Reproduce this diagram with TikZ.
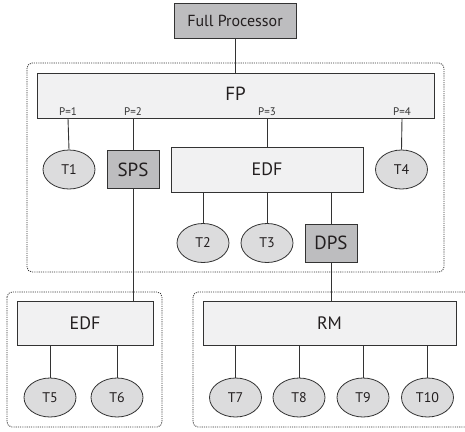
\documentclass[tikz,border=0pt]{standalone}
\usepackage{fontspec}
\setmainfont{PT Sans}
\usetikzlibrary{shapes.geometric}
\definecolor{darkfill}{HTML}{BDBDBF}
\definecolor{lightfill}{HTML}{F1F1F2}
\definecolor{ellfill}{HTML}{DCDCDD}
\definecolor{linecol}{HTML}{333333}
\definecolor{txtcol}{HTML}{231F20}
\tikzset{
  sched/.style={draw=linecol, line width=0.9pt, fill=lightfill, inner sep=0pt, text=txtcol, font=\fontsize{18}{18}\selectfont},
  server/.style={draw=linecol, line width=0.9pt, fill=darkfill, inner sep=0pt, minimum width=52pt, minimum height=38pt, text=txtcol, font=\fontsize{19}{19}\selectfont},
  task/.style={ellipse, draw=linecol, line width=0.8pt, fill=ellfill, inner sep=0pt, minimum width=52pt, minimum height=39pt, text=txtcol, font=\fontsize{14}{14}\selectfont},
  plab/.style={inner sep=0pt, font=\fontsize{11}{11}\selectfont, text=linecol},
  conn/.style={draw=linecol, line width=0.9pt},
  group/.style={draw=linecol, line width=0.8pt, dash pattern=on 1.1pt off 1.1pt, rounded corners=5pt}
}
\begin{document}
\begin{tikzpicture}[x=1pt, y=-1pt]
\useasboundingbox (0,0) rectangle (465,431);
% groups
\draw[group] (27,63) rectangle (444,272);
\draw[group] (7,292) rectangle (162,427);
\draw[group] (193,292) rectangle (475,427);
% nodes
\node[server, minimum width=122pt, minimum height=35pt, font=\fontsize{16}{16}\selectfont] (full) at (235,20.5) {Full Processor};
\node[sched, minimum width=397pt, minimum height=45pt] (FP) at (235.5,95.5) {};
\node[inner sep=0pt, text=txtcol, font=\fontsize{19}{19}\selectfont] (FPt) at (235.5,94) {FP};
\node[plab] (p1) at (68,112) {P=1};
\node[plab] (p2) at (133,112) {P=2};
\node[plab] (p3) at (267,112) {P=3};
\node[plab] (p4) at (402,112) {P=4};
\node[task] (T1) at (69,169.5) {T1};
\node[server] (SPS) at (133,169.5) {SPS};
\node[sched, minimum width=192pt, minimum height=45pt] (EDF1) at (267,169.5) {EDF};
\node[task] (T4) at (401.5,169.5) {T4};
\node[task] (T2) at (203,243) {T2};
\node[task] (T3) at (267,243) {T3};
\node[server] (DPS) at (331,243) {DPS};
\node[sched, minimum width=136pt, minimum height=44pt] (EDF2) at (85,323) {EDF};
\node[sched, minimum width=253pt, minimum height=44pt] (RM) at (329.5,323) {RM};
\node[task] (T5) at (50,397.5) {T5};
\node[task] (T6) at (117,397.5) {T6};
\node[task] (T7) at (235.5,397.5) {T7};
\node[task] (T8) at (299,397.5) {T8};
\node[task] (T9) at (363,397.5) {T9};
\node[task] (T10) at (427.5,397.5) {T10};
% connectors
\draw[conn] (full.south) -- (full.south |- FP.north);
\draw[conn] (p1.south |- FP.south) -- (T1.north);
\draw[conn] (p2.south |- FP.south) -- (SPS.north);
\draw[conn] (p3.south |- FP.south) -- (EDF1.north);
\draw[conn] (p4.south |- FP.south) -- (T4.north);
\draw[conn] (T2.north |- EDF1.south) -- (T2.north);
\draw[conn] (T3.north |- EDF1.south) -- (T3.north);
\draw[conn] (DPS.north |- EDF1.south) -- (DPS.north);
\draw[conn] (SPS.south) -- (SPS.south |- EDF2.north);
\draw[conn] (DPS.south) -- (DPS.south |- RM.north);
\draw[conn] (T5.north |- EDF2.south) -- (T5.north);
\draw[conn] (T6.north |- EDF2.south) -- (T6.north);
\draw[conn] (T7.north |- RM.south) -- (T7.north);
\draw[conn] (T8.north |- RM.south) -- (T8.north);
\draw[conn] (T9.north |- RM.south) -- (T9.north);
\draw[conn] (T10.north |- RM.south) -- (T10.north);
\end{tikzpicture}
\end{document}
